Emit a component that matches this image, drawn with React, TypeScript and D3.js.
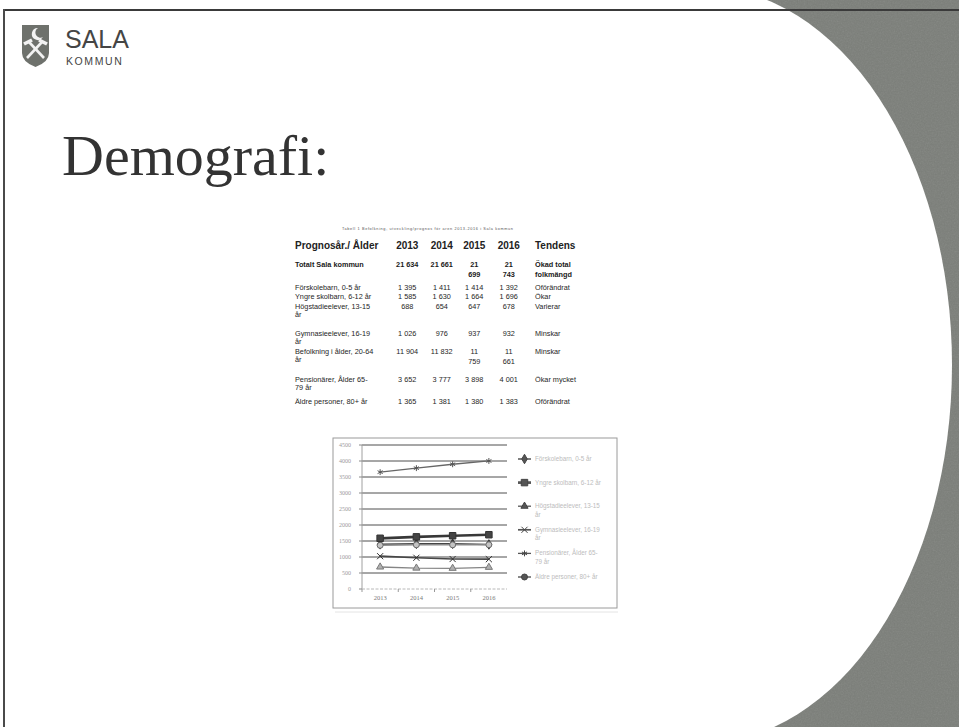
import React from 'react';
import * as d3 from 'd3';

// ---- table data ----
const years = ['2013', '2014', '2015', '2016'];
const tableCaption = 'Tabell 1 Befolkning, utveckling/prognos för åren 2013-2016 i Sala kommun';
const headerFirst = 'Prognosår./ Ålder';
const headerLast = 'Tendens';

const rowLabels = [
  ['Totalt Sala kommun'],
  ['Förskolebarn, 0-5 år'],
  ['Yngre skolbarn, 6-12 år'],
  ['Högstadieelever, 13-15', 'år'],
  ['Gymnasieelever, 16-19', 'år'],
  ['Befolkning i ålder, 20-64', 'år'],
  ['Pensionärer, Ålder 65-', '79 år'],
  ['Äldre personer, 80+ år'],
];
const totalt = [21634, 21661, 21699, 21743];
const forskolebarn = [1395, 1411, 1414, 1392];
const yngreSkolbarn = [1585, 1630, 1664, 1696];
const hogstadieelever = [688, 654, 647, 678];
const gymnasieelever = [1026, 976, 937, 932];
const befolkning2064 = [11904, 11832, 11759, 11661];
const pensionarer = [3652, 3777, 3898, 4001];
const aldrePersoner = [1365, 1381, 1380, 1383];
const tendens = [
  ['Ökad total', 'folkmängd'],
  ['Oförändrat'],
  ['Ökar'],
  ['Varierar'],
  ['Minskar'],
  ['Minskar'],
  ['Ökar mycket'],
  ['Oförändrat'],
];
const tableRows = [totalt, forskolebarn, yngreSkolbarn, hogstadieelever, gymnasieelever, befolkning2064, pensionarer, aldrePersoner];

// ---- chart data ----
const seriesNames = ['Förskolebarn', 'Yngre skolbarn', 'Högstadieelever', 'Gymnasieelever', 'Pensionärer', 'Äldre personer'];
const seriesValues = [forskolebarn, yngreSkolbarn, hogstadieelever, gymnasieelever, pensionarer, aldrePersoner];
const legendLabels = [
  ['Förskolebarn, 0-5 år'],
  ['Yngre skolbarn, 6-12 år'],
  ['Högstadieelever, 13-15', 'år'],
  ['Gymnasieelever, 16-19', 'år'],
  ['Pensionärer, Ålder 65-', '79 år'],
  ['Äldre personer, 80+ år'],
];
const yMax = 4500;

// styles, keyed by series
const styles: Record<string, { stroke: string; width: number; symbol: any; size: number; fill: string; mstroke: string }> = {
  'Förskolebarn': { stroke: '#454545', width: 1.5, symbol: d3.symbolDiamond, size: 26, fill: '#3a3a3a', mstroke: '#3a3a3a' },
  'Yngre skolbarn': { stroke: '#383838', width: 2.7, symbol: d3.symbolSquare, size: 42, fill: '#444', mstroke: '#333' },
  'Högstadieelever': { stroke: '#858585', width: 1.3, symbol: d3.symbolTriangle, size: 22, fill: '#b0b0b0', mstroke: '#7a7a7a' },
  'Gymnasieelever': { stroke: '#474747', width: 1.7, symbol: d3.symbolX, size: 26, fill: 'none', mstroke: '#333' },
  'Pensionärer': { stroke: '#666', width: 1.3, symbol: d3.symbolAsterisk, size: 24, fill: 'none', mstroke: '#555' },
  'Äldre personer': { stroke: '#8a8a8a', width: 1.4, symbol: d3.symbolCircle, size: 28, fill: '#c4c4c4', mstroke: '#6a6a6a' },
};
const drawOrder = ['Pensionärer', 'Förskolebarn', 'Äldre personer', 'Yngre skolbarn', 'Gymnasieelever', 'Högstadieelever'];

const W = 959;
const H = 727;

function fmt(n: number) {
  if (n < 1000) return String(n);
  return `${Math.floor(n / 1000)} ${String(n % 1000).padStart(3, '0')}`;
}

function Logo() {
  return (
    <g>
      <path d="M22,25 H49 V53 Q49,62 35.5,67 Q22,62 22,53 Z" fill="#6e716c" />
      <path d="M38,28 A6,6 0 1,0 43,37 A4.5,4.5 0 1,1 38,28 Z" fill="#f2f2f2" />
      <line x1={27} y1={58} x2={42} y2={42} stroke="#f2f2f2" strokeWidth={2.6} />
      <line x1={44} y1={58} x2={29} y2={42} stroke="#f2f2f2" strokeWidth={2.6} />
      <line x1={24} y1={44} x2={32} y2={40} stroke="#f2f2f2" strokeWidth={3.6} />
      <line x1={47} y1={44} x2={39} y2={40} stroke="#f2f2f2" strokeWidth={3.6} />
      <text x={65} y={48} fontFamily="Liberation Sans" fontSize={25} fill="#454545">SALA</text>
      <text x={66} y={64.5} fontFamily="Liberation Sans" fontSize={10.5} letterSpacing={1.6} fill="#454545">KOMMUN</text>
    </g>
  );
}

function Table() {
  const colX = d3.scaleBand().domain(years).range([390, 528]).paddingInner(0);
  const cx = (i: number) => (colX(years[i]) as number) + colX.bandwidth() / 2 + (i >= 2 ? -2 : 0);
  const rowY = [264, 287, 296, 306, 333, 351, 379, 401];
  const lineH = 8.5;
  const labelX = 295;
  const tendX = 535;
  return (
    <g fontFamily="Liberation Sans" fill="#222">
      <text x={342} y={230} fontSize={3.8} textLength={171} fill="#555">{tableCaption}</text>
      <text x={labelX} y={248.5} fontSize={10} fontWeight={600}>{headerFirst}</text>
      {years.map((yr, i) => (
        <text key={yr} x={cx(i)} y={248.5} fontSize={10} fontWeight={600} textAnchor="middle">{yr}</text>
      ))}
      <text x={tendX} y={248.5} fontSize={10} fontWeight={600}>{headerLast}</text>
      {tableRows.map((vals, r) => {
        const bold = r === 0;
        const y0 = rowY[r] + 2.5;
        return (
          <g key={r} fontSize={7.3} fontWeight={bold ? 700 : 400} fill={bold ? '#1a1a1a' : '#262626'}>
            {rowLabels[r].map((t, k) => (
              <text key={k} x={labelX} y={y0 + k * lineH}>{t}</text>
            ))}
            {vals.map((v, i) => {
              const wrap = v >= 10000 && i >= 2;
              const parts = wrap ? [String(Math.floor(v / 1000)), String(v % 1000).padStart(3, '0')] : [fmt(v)];
              return parts.map((p, k) => (
                <text key={`${i}-${k}`} x={cx(i)} y={y0 + k * (lineH + 1.5)} textAnchor="middle">{p}</text>
              ));
            })}
            {tendens[r].map((t, k) => (
              <text key={`t${k}`} x={tendX} y={y0 + k * (lineH + 1.5)}>{t}</text>
            ))}
          </g>
        );
      })}
    </g>
  );
}

function Chart() {
  const box = { x: 333, y: 438, w: 284, h: 170 };
  const plotL = 362;
  const plotR = 507;
  const plotT = 445;
  const plotB = 589;
  const x = d3.scaleBand().domain(years).range([plotL, plotR]);
  const xc = (yr: string) => (x(yr) as number) + x.bandwidth() / 2;
  const y = d3.scaleLinear().domain([0, yMax]).range([plotB, plotT]);
  const ticks = y.ticks(9);
  const line = d3.line<number>().x((_, i) => xc(years[i])).y(d => y(d));
  const legendY = d3.scaleLinear().domain([0, seriesNames.length - 1]).range([459, 577]);
  const sym = (name: string) => d3.symbol().type(styles[name].symbol).size(styles[name].size)() as string;

  return (
    <g>
      <line x1={box.x + 2} y1={box.y + box.h + 4} x2={box.x + box.w + 1} y2={box.y + box.h + 4} stroke="#e4e4e4" strokeWidth={1} />
      <rect x={box.x} y={box.y} width={box.w} height={box.h} fill="#fff" stroke="#9a9a9a" strokeWidth={1} />
      {/* gridlines */}
      {ticks.filter(t => t > 0).map(t => (
        <line key={t} x1={plotL} x2={plotR} y1={y(t)} y2={y(t)} stroke="#4e4e4e" strokeWidth={1} />
      ))}
      {/* axes */}
      <line x1={plotL} x2={plotL} y1={plotT} y2={plotB} stroke="#a0a0a0" strokeWidth={1} />
      <line x1={plotL} x2={plotR} y1={plotB} y2={plotB} stroke="#b8b8b8" strokeWidth={1} strokeDasharray="3 1.5" />
      {ticks.map(t => (
        <g key={`yt${t}`}>
          <line x1={plotL - 3} x2={plotL} y1={y(t)} y2={y(t)} stroke="#888" />
          <text x={351} y={y(t) + 2} fontSize={6} fontFamily="Liberation Serif" fill="#9a9a9a" textAnchor="end">{t}</text>
        </g>
      ))}
      {years.map(yr => (
        <g key={`xt${yr}`}>
          <line x1={(x(yr) as number)} x2={(x(yr) as number)} y1={plotB} y2={plotB + 3} stroke="#999" />
          <text x={xc(yr)} y={600} fontSize={6.5} fontFamily="Liberation Serif" fill="#7a7a7a" textAnchor="middle">{yr}</text>
        </g>
      ))}
      {/* series */}
      {drawOrder.map(name => {
        const i = seriesNames.indexOf(name);
        const s = styles[name];
        return (
          <g key={name}>
            <path d={line(seriesValues[i]) as string} fill="none" stroke={s.stroke} strokeWidth={s.width} />
            {seriesValues[i].map((v, k) => (
              <path key={k} d={sym(name)} transform={`translate(${xc(years[k])},${y(v)})`} fill={s.fill} stroke={s.mstroke} strokeWidth={1} />
            ))}
          </g>
        );
      })}
      {/* legend */}
      {seriesNames.map((name, i) => {
        const s = styles[name];
        const ly = legendY(i);
        return (
          <g key={`lg${name}`}>
            <line x1={518} x2={531} y1={ly} y2={ly} stroke="#555" strokeWidth={Math.max(1.3, s.width)} />
            <path d={sym(name)} transform={`translate(524.5,${ly})`} fill={s.fill === 'none' ? 'none' : '#555'} stroke="#444" strokeWidth={1} />
            {legendLabels[i].map((t, k) => (
              <text key={k} x={535} y={ly + 2 + k * 8.5} fontSize={6.3} fontFamily="Liberation Sans" fill="#bcbcbc">{t}</text>
            ))}
          </g>
        );
      })}
    </g>
  );
}

export default function App() {
  const ell = { cx: 702, cy: 365, rx: 250, ry: 378 };
  return (
    <svg width={W} height={H} viewBox={`0 0 ${W} ${H}`} style={{ position: 'absolute', left: 0, top: 0, display: 'block' }}>
      <defs>
        <filter id="grain" x="0" y="0" width="100%" height="100%">
          <feTurbulence type="fractalNoise" baseFrequency="0.7" numOctaves={3} seed={5} />
          <feColorMatrix type="saturate" values="0" />
        </filter>
      </defs>
      <rect x={0} y={0} width={W} height={H} fill="#fff" />
      <rect x={ell.cx} y={0} width={W - ell.cx} height={H} fill="#7b7e79" />
      <rect x={ell.cx} y={0} width={W - ell.cx} height={H} filter="url(#grain)" opacity={0.14} />
      <ellipse cx={ell.cx} cy={ell.cy} rx={ell.rx} ry={ell.ry} fill="#fff" />
      <line x1={3} x2={W} y1={10} y2={10} stroke="#3a3a3a" strokeWidth={2} />
      <line x1={4} x2={4} y1={9} y2={H} stroke="#4a4a4a" strokeWidth={2} />
      <Logo />
      <text x={62} y={175} fontFamily="Liberation Serif" fontSize={58} fill="#333">Demografi:</text>
      <Table />
      <Chart />
    </svg>
  );
}
